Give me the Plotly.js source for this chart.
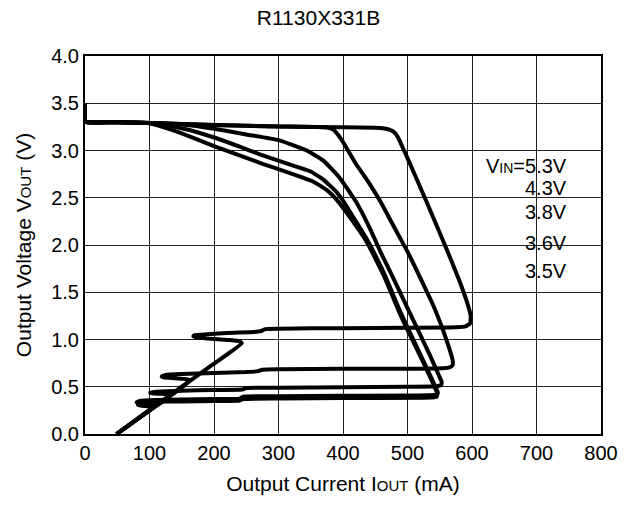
<!DOCTYPE html>
<html>
<head>
<meta charset="utf-8">
<script src="https://cdn.plot.ly/plotly-3.0.1.min.js"></script>
<style>html,body{margin:0;padding:0;background:#fff;}#chart{width:637px;height:514px;}</style>
</head>
<body>
<div id="chart"></div>
<script>
// Output current (mA) and output voltage (V) for each input voltage
const iout_53 = [0,0,3,50,100,200,300,400,450,462,472,480,486,492,500,530,561,580,592,598,597,590,575,500,400,300,280,273,262,220,180,170,168,175,200,225,240,243,195,150,100,49];
const vout_53 = [3.5,3.32,3.3,3.3,3.29,3.27,3.255,3.245,3.24,3.235,3.22,3.19,3.13,3.04,2.92,2.45,1.95,1.63,1.4,1.25,1.17,1.14,1.13,1.125,1.12,1.115,1.11,1.09,1.08,1.07,1.05,1.045,1.035,1.02,1.005,0.995,0.98,0.96,0.72,0.5,0.255,0];

const iout_43 = [0,0,3,50,100,200,300,370,378,385,392,400,420,440,458,480,500,520,540,555,565,570,570,565,555,500,400,300,275,268,250,200,150,125,119,122,140,163,150,100,49];
const vout_43 = [3.5,3.32,3.3,3.3,3.29,3.27,3.255,3.247,3.24,3.22,3.17,3.09,2.86,2.66,2.46,2.18,1.93,1.65,1.36,1.1,0.9,0.78,0.73,0.705,0.695,0.69,0.69,0.685,0.68,0.665,0.655,0.645,0.635,0.625,0.61,0.6,0.59,0.575,0.49,0.25,0];

const iout_38 = [0,0,3,50,100,158,200,250,300,344,370,395,420,440,460,480,510,535,548,553,552,545,500,400,300,250,243,200,150,110,101,104,120,133,100,49];
const vout_38 = [3.5,3.32,3.3,3.3,3.29,3.27,3.23,3.17,3.11,3.0,2.89,2.71,2.46,2.2,1.9,1.62,1.19,0.83,0.63,0.55,0.52,0.505,0.5,0.495,0.49,0.487,0.47,0.465,0.458,0.448,0.44,0.43,0.425,0.41,0.25,0];

const iout_36 = [0,0,3,50,100,116,160,199,240,271,310,349,370,390,400,420,437,463,489,520,540,547,546,535,400,300,245,240,200,150,110,85,80,84,95,110,100,49];
const vout_36 = [3.5,3.32,3.3,3.3,3.29,3.28,3.22,3.14,3.04,2.96,2.87,2.78,2.69,2.56,2.47,2.25,2.06,1.71,1.29,0.84,0.55,0.44,0.42,0.41,0.405,0.4,0.395,0.375,0.37,0.365,0.36,0.35,0.335,0.32,0.31,0.3,0.25,0];

const iout_35 = [0,0,3,50,98,120,150,199,271,354,375,390,410,437,463,489,520,540,546,545,535,400,300,245,240,200,150,100,85,82,86,100,110,100,49];
const vout_35 = [3.5,3.32,3.3,3.3,3.29,3.25,3.18,3.05,2.87,2.67,2.58,2.48,2.3,2.03,1.68,1.26,0.82,0.53,0.43,0.395,0.385,0.38,0.375,0.37,0.355,0.35,0.345,0.34,0.335,0.31,0.3,0.295,0.3,0.25,0];

const vinLabels = ["V<span style='font-size:14px'>IN</span>=5.3V", "4.3V", "3.8V", "3.6V", "3.5V"];
const labelY = [2.84, 2.60, 2.35, 2.02, 1.73];
const labelX = 750;

const xTicks = [0,100,200,300,400,500,600,700,800];
const yTicks = [0.0,0.5,1.0,1.5,2.0,2.5,3.0,3.5,4.0];

const series = [[iout_53,vout_53],[iout_43,vout_43],[iout_38,vout_38],[iout_36,vout_36],[iout_35,vout_35]];
const traces = series.map(s => ({
  x: s[0], y: s[1], type: 'scatter', mode: 'lines',
  line: {color: '#000', width: 4, shape: 'spline', smoothing: 0.4},
  hoverinfo: 'skip', showlegend: false
}));

const font = {family: 'Liberation Sans, Arial, sans-serif', color: '#000'};
const layout = {
  width: 637, height: 514,
  margin: {l: 85, r: 36, t: 56, b: 80},
  paper_bgcolor: '#fff', plot_bgcolor: '#fff',
  font: Object.assign({size: 19}, font),
  title: {text: 'R1130X331B', x: 0.5, xref: 'container', xanchor: 'center', y: 1 - 18/514, yanchor: 'middle', font: Object.assign({size: 21}, font)},
  xaxis: {
    range: [0, 800], tickvals: xTicks, ticktext: xTicks.map(String),
    showgrid: true, gridcolor: '#222', gridwidth: 1,
    showline: true, linecolor: '#000', linewidth: 2, mirror: true,
    zeroline: false, ticks: '', tickfont: Object.assign({size: 20}, font),
    title: {text: "Output Current I<span style='font-size:15px'>OUT</span> (mA)", font: Object.assign({size: 21}, font), standoff: 13}
  },
  yaxis: {
    range: [0, 4], tickvals: yTicks, ticktext: yTicks.map(v => v.toFixed(1)),
    showgrid: true, gridcolor: '#222', gridwidth: 1,
    showline: true, linecolor: '#000', linewidth: 2, mirror: true,
    zeroline: false, ticks: '', tickfont: Object.assign({size: 20}, font),
    title: {text: "Output Voltage V<span style='font-size:15px'>OUT</span> (V)", font: Object.assign({size: 21}, font), standoff: 14}
  },
  annotations: vinLabels.map((t, i) => ({
    x: labelX, y: labelY[i], xref: 'x', yref: 'y', text: t, showarrow: false,
    xanchor: 'right', yanchor: 'middle', font: Object.assign({size: 20}, font)
  }))
};

Plotly.newPlot('chart', traces, layout, {staticPlot: true, displayModeBar: false});
</script>
</body>
</html>
